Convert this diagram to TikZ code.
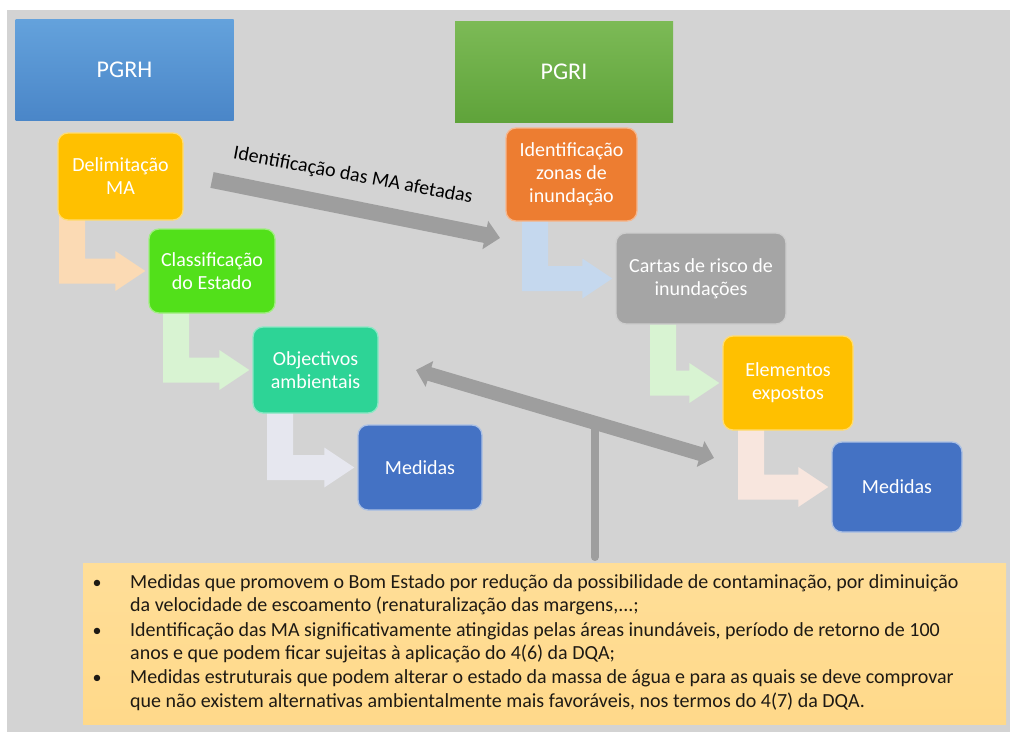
\documentclass[tikz,border=0pt]{standalone}
\usepackage{fontspec}
\setmainfont{Carlito}
\usetikzlibrary{arrows.meta,calc}
\pgfdeclarelayer{bg}
\pgfdeclarelayer{under}
\pgfsetlayers{bg,under,main}
\definecolor{bggray}{HTML}{D3D3D3}
\definecolor{cblueT}{HTML}{64A2DC}
\definecolor{cblueB}{HTML}{4A86C8}
\definecolor{cgreenT}{HTML}{7CBA56}
\definecolor{cgreenB}{HTML}{5FA33A}
\definecolor{cyel}{HTML}{FFC000}
\definecolor{clime}{HTML}{52E01A}
\definecolor{cteal}{HTML}{2DD496}
\definecolor{cmed}{HTML}{4472C4}
\definecolor{corange}{HTML}{ED7D31}
\definecolor{cgray}{HTML}{A5A5A5}
\definecolor{apeach}{HTML}{FBDAB4}
\definecolor{agreen}{HTML}{D8F3D2}
\definecolor{alav}{HTML}{E6E7EF}
\definecolor{ablue}{HTML}{C5D8EE}
\definecolor{apink}{HTML}{F8E6DE}
\definecolor{arrgray}{HTML}{9E9E9E}
\definecolor{notefill}{HTML}{FFD98A}
\definecolor{notetop}{HTML}{FFDE98}
\definecolor{notetext}{HTML}{1E1A14}
\newcommand\bentarrow[4]{%
  \path[fill=#1] let \p1=(#3.south), \p2=(#4.west) in
  (#2pt,\y1+6pt) -- (#2pt+26pt,\y1+6pt) -- (#2pt+26pt,\y2+12.5pt)
  -- (\x2-33pt,\y2+12.5pt) -- (\x2-33pt,\y2+20pt) -- (\x2-3pt,\y2)
  -- (\x2-33pt,\y2-20pt) -- (\x2-33pt,\y2-12.5pt) -- (#2pt,\y2-12.5pt) -- cycle;}
\begin{document}
\begin{tikzpicture}[x=1pt,y=-1pt,
  header/.style={rectangle, minimum width=218pt, minimum height=101pt, inner sep=0pt,
    text=white, font=\fontsize{24}{28}\selectfont},
  stepbox/.style={rectangle, rounded corners=10pt, line width=1.3pt, inner sep=2pt,
    align=center, text=white, font=\fontsize{20}{23}\selectfont},
  grayarrow/.style={draw=arrgray},
  noteline/.style={anchor=base west, inner sep=0pt, text=notetext, font=\fontsize{20}{23}\selectfont},
  bulletmark/.style={anchor=base, inner sep=0pt, text=notetext, font=\fontsize{18}{23}\selectfont}
]
\useasboundingbox (0,0) rectangle (1010,736);
\begin{pgfonlayer}{bg}
\fill[white] (0,0) rectangle (1010,736);
\fill[bggray] (7,10) rectangle (1010,732);
\end{pgfonlayer}

% headers
\node[header, top color=cblueT, bottom color=cblueB] (pgrh) at (124.5,69.5) {PGRH};
\node[header, top color=cgreenT, bottom color=cgreenB] (pgri) at (564,72) {PGRI};

% left column
\node[stepbox, fill=cyel, draw=cyel!55!white, minimum width=125pt, minimum height=87pt] (delim) at (120.5,176.5) {Delimitação\\MA};
\node[stepbox, fill=clime, draw=clime!55!white, minimum width=126pt, minimum height=84pt] (classif) at (212,271) {Classificação\\do Estado};
\node[stepbox, fill=cteal, draw=cteal!55!white, minimum width=125pt, minimum height=86pt] (obj) at (315.5,370) {Objectivos\\ambientais};
\node[stepbox, fill=cmed, draw=cmed!45!white, minimum width=124pt, minimum height=85pt] (medL) at (420,467.5) {Medidas};

% right column
\node[stepbox, fill=corange, draw=corange!55!white, minimum width=131pt, minimum height=93pt] (idz) at (571.5,174.5) {Identificação\\zonas de\\inundação};
\node[stepbox, fill=cgray, draw=cgray!55!white, minimum width=170pt, minimum height=91pt] (cartas) at (701,278.5) {Cartas de risco de\\inundações};
\node[stepbox, fill=cyel, draw=cyel!55!white, minimum width=130pt, minimum height=94pt] (elem) at (788,383) {Elementos\\expostos};
\node[stepbox, fill=cmed, draw=cmed!45!white, minimum width=130pt, minimum height=90pt] (medR) at (897,487) {Medidas};

% bent arrows
\begin{pgfonlayer}{under}
\bentarrow{apeach}{59}{delim}{classif}
\bentarrow{agreen}{163}{classif}{obj}
\bentarrow{alav}{267}{obj}{medL}
\bentarrow{ablue}{522}{idz}{cartas}
\bentarrow{agreen}{650}{cartas}{elem}
\bentarrow{apink}{738}{elem}{medR}
\end{pgfonlayer}

% gray arrows
\coordinate (ia1) at (212,180);
\coordinate (ia2) at (500,238);
\draw[grayarrow, line width=16pt, -{Triangle[length=15pt,width=28pt]}] (ia1) -- (ia2);
\node[anchor=base, rotate=-10.5, inner sep=0pt, font=\fontsize{20}{24}\selectfont] (ialab) at (352,181) {Identificação das MA afetadas};

\coordinate (da1) at (416,370);
\coordinate (da2) at (714,458);
\coordinate (tj) at ($(da1)!0.6!(da2)$);
\coordinate (stemend) at (595,557);
\draw[grayarrow, line width=8pt, line cap=round] (tj) -- (tj |- stemend);
\draw[grayarrow, line width=14pt, {Triangle[length=14pt,width=26pt]}-{Triangle[length=14pt,width=26pt]}] (da1) -- (da2);

% note box
\node[anchor=north west, inner sep=0pt, minimum width=923pt, minimum height=161pt,
  top color=notetop, bottom color=notefill] (note) at (83,563) {};
\node[bulletmark] (b1) at (97,588) {•};
\node[bulletmark] (b2) at (97,636) {•};
\node[bulletmark] (b3) at (97,683) {•};
\node[noteline] (l1) at (130,588) {Medidas que promovem o Bom Estado por redução da possibilidade de contaminação, por diminuição};
\node[noteline] (l2) at (130,611) {da velocidade de escoamento (renaturalização das margens,...;};
\node[noteline] (l3) at (130,636) {Identificação das MA significativamente atingidas pelas áreas inundáveis, período de retorno de 100};
\node[noteline] (l4) at (130,659) {anos e que podem ficar sujeitas à aplicação do 4(6) da DQA;};
\node[noteline] (l5) at (130,683) {Medidas estruturais que podem alterar o estado da massa de água e para as quais se deve comprovar};
\node[noteline] (l6) at (130,707) {que não existem alternativas ambientalmente mais favoráveis, nos termos do 4(7) da DQA.};
\end{tikzpicture}
\end{document}
